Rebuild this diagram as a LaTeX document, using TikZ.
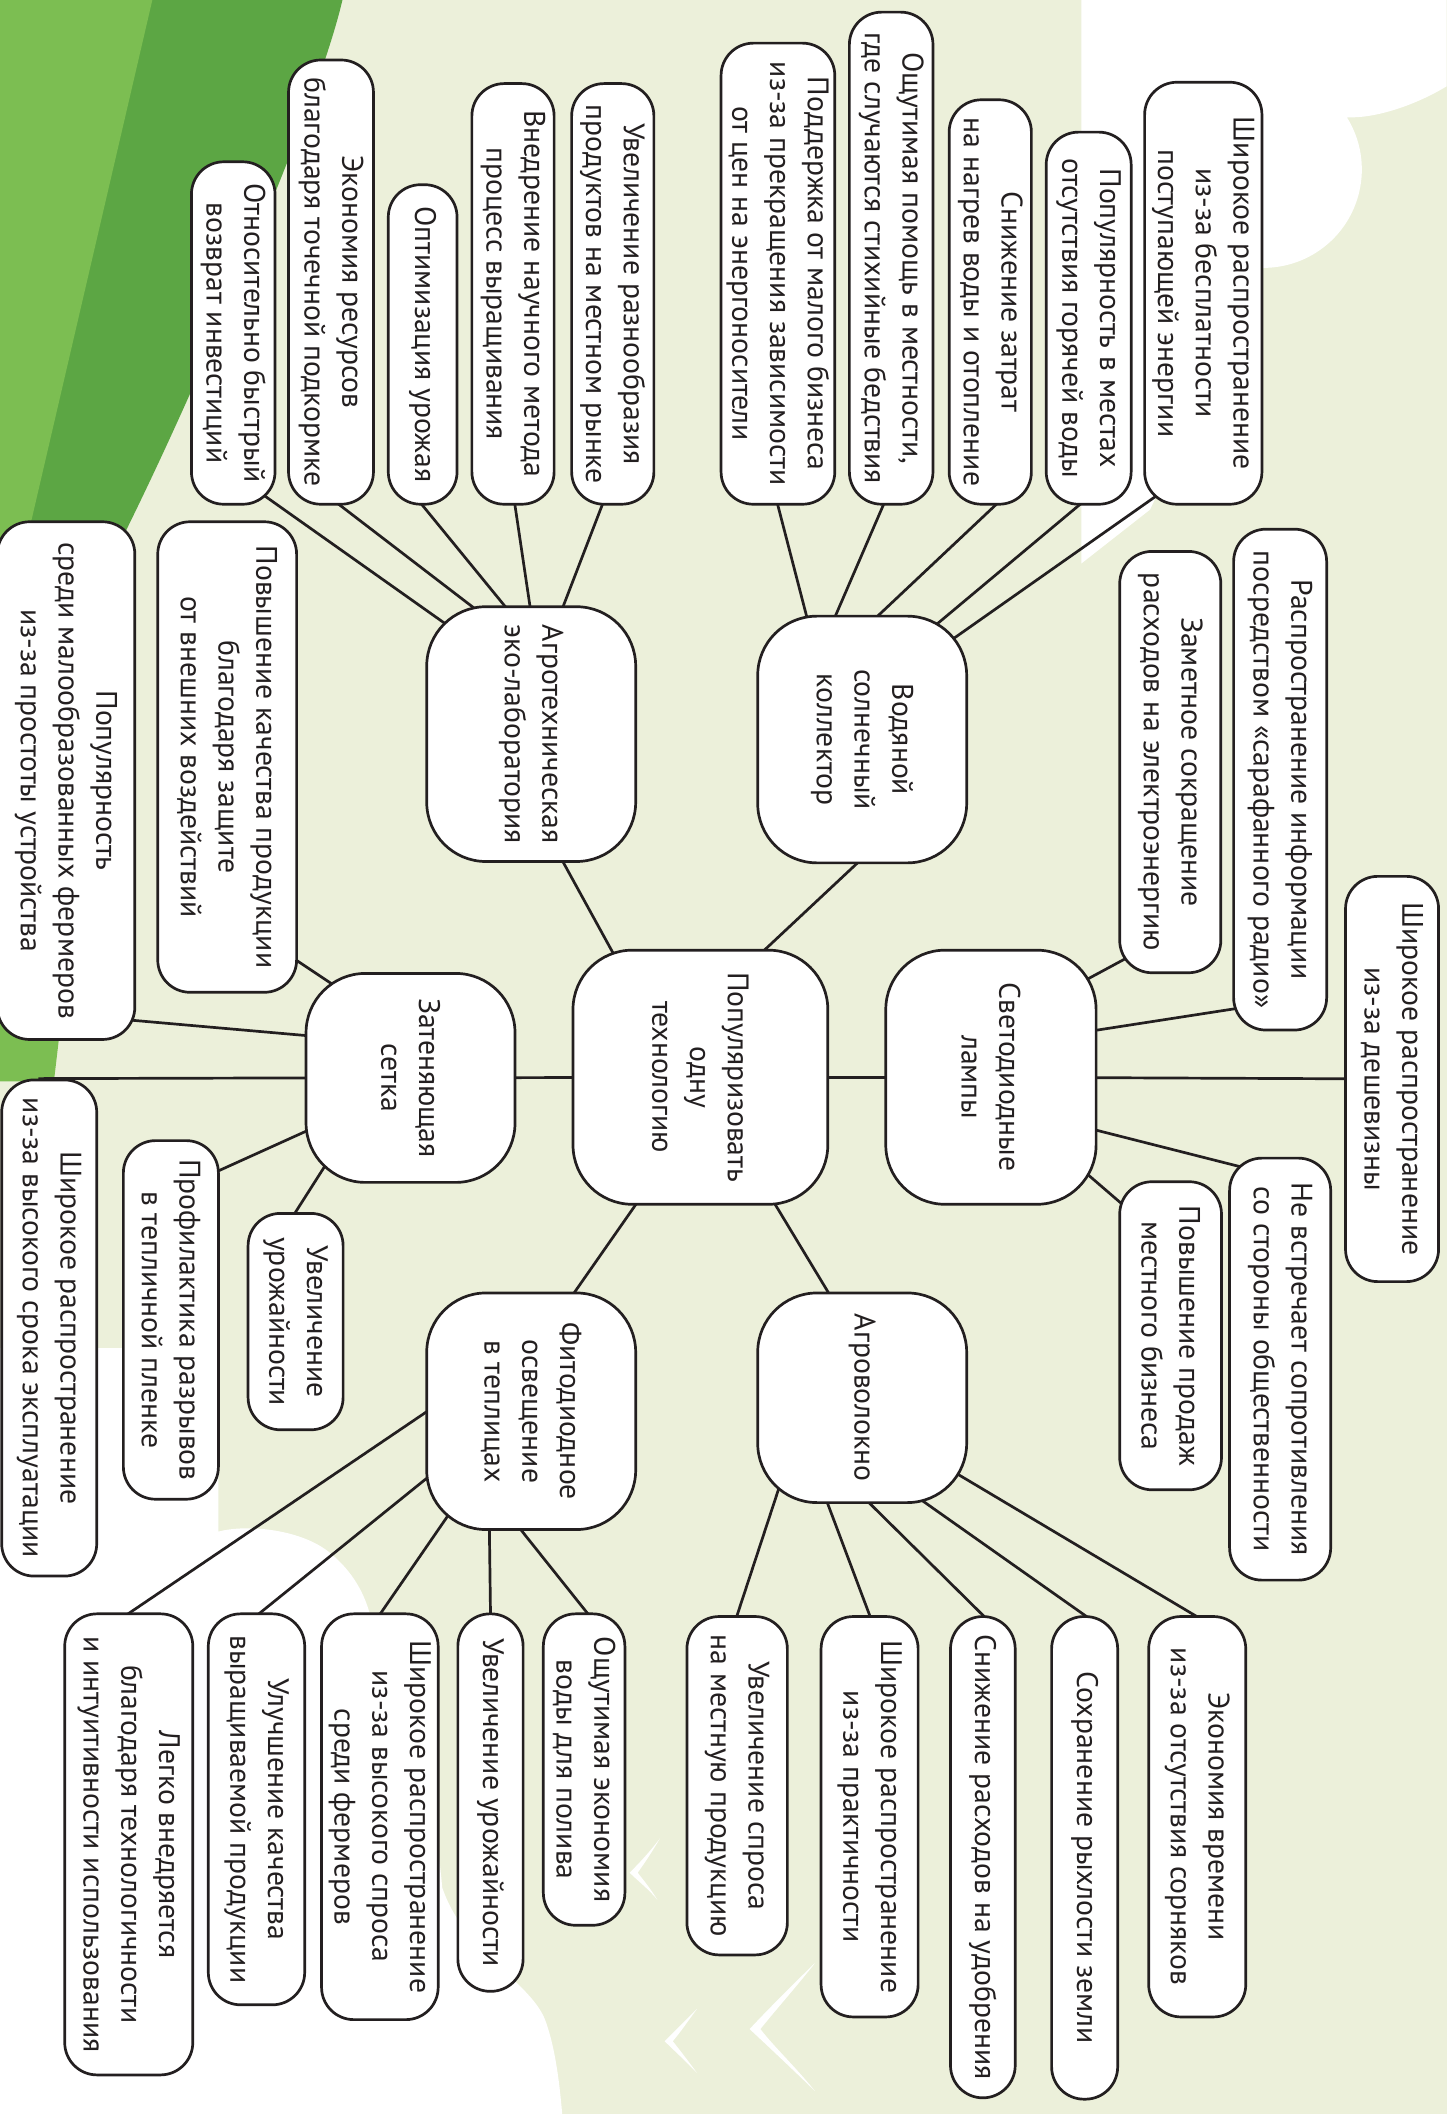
\documentclass[tikz,border=0pt]{standalone}
\usepackage{fontspec}
\setmainfont{PT Sans}
\newcommand{\mapfont}{\fontsize{22}{28}\selectfont}
\pgfdeclarelayer{scenery}
\pgfdeclarelayer{edges}
\pgfsetlayers{scenery,edges,main}
\definecolor{ink}{RGB}{35,31,32}
\definecolor{paper}{RGB}{236,240,218}
\definecolor{leafdark}{RGB}{92,166,68}
\definecolor{leaflight}{RGB}{124,190,82}

\begin{document}
\begin{tikzpicture}[
        x=1pt, y=-1pt,
        hub/.style 2 args={rectangle, draw=ink, fill=white, text=ink, line width=2pt, rounded corners=44pt, rotate=-90, align=center, inner sep=4pt, font=\mapfont, minimum width=#1, minimum height=#2},
        leaf/.style 2 args={rectangle, draw=ink, fill=white, text=ink, line width=2pt, rounded corners=24pt, rotate=-90, align=center, inner sep=4pt, font=\mapfont, minimum width=#1, minimum height=#2},
        link/.style={draw=ink, line width=2pt, shorten <=-14pt, shorten >=-8pt},
      ]
      \useasboundingbox (0,0) rectangle (1073,1568);

      %Background
      \begin{pgfonlayer}{scenery}
      \fill[paper] (0,0) rectangle (1073,1568);
      \fill[leafdark] (0,0) -- (254,0) .. controls (240,60) and (190,180) .. (141,292) .. controls (115,350) and (60,470) .. (0,560) -- cycle;
      \fill[leaflight] (0,0) -- (113,0) -- (24,383) -- (0,480) -- cycle;
      \fill[leaflight] (0,700) -- (52,700) -- (40,802) -- (0,802) -- cycle;
      \fill[white] (802,0) -- (1073,0) -- (1073,64) .. controls (1050,78) and (1020,88) .. (999,87) arc[start angle=32, end angle=-90, radius=73pt] -- (853,378) -- (802,418) -- cycle;
      \fill[white] (0,1000) -- (150,1000) -- (162,1048) -- (162,1136) .. controls (185,1130) and (225,1135) .. (245,1152) .. controls (262,1166) and (270,1182) .. (274,1196) .. controls (300,1260) and (322,1330) .. (328,1400) .. controls (345,1450) and (395,1470) .. (405,1500) .. controls (412,1520) and (415,1545) .. (417,1568) -- (0,1568) -- cycle;
      \fill[white] (489.5,1363.6) .. controls (480,1376) and (472,1384) .. (467,1389) .. controls (473,1395) and (481,1401) .. (487.5,1409) .. controls (482,1400) and (476,1393) .. (473,1389) .. controls (478,1382) and (484,1373) .. cycle;
      \fill[white] (517,1490) .. controls (507,1500) and (499,1508) .. (493,1514) .. controls (500,1521) and (509,1529) .. (517,1537.6) .. controls (510,1528) and (503,1519) .. (499,1514) .. controls (505,1507) and (511,1498) .. cycle;
      \fill[white] (604.5,1456) .. controls (588,1472) and (570,1490) .. (556,1505) .. controls (570,1518) and (588,1535) .. (604.5,1551) .. controls (590,1533) and (574,1518) .. (564,1505) .. controls (576,1490) and (592,1472) .. cycle;
      \end{pgfonlayer}

      %Nodes
      \node[hub={188.5}{189}]   (goal)   at (519.5,799)     {Популяризовать\\одну\\технологию};
      \node[hub={188.5}{156}]   (led)    at (735,799)       {Светодиодные\\лампы};
      \node[hub={183}{155}]     (solar)  at (639.5,548.5)   {Водяной\\солнечный\\коллектор};
      \node[hub={189}{155}]     (lab)    at (394,544.5)     {Агротехническая\\эко-лаборатория};
      \node[hub={155}{155}]     (net)    at (304.5,799.5)   {Затеняющая\\сетка};
      \node[hub={175.5}{155}]   (phyto)  at (394,1046.75)   {Фитодиодное\\освещение\\в теплицах};
      \node[hub={155.5}{155}]   (fiber)  at (639.5,1036.75) {Агроволокно};

      \node[leaf={313}{87}]     (sol1)   at (892.5,217.5)   {Широкое распространение\\из-за бесплатности\\поступающей энергии};
      \node[leaf={276}{63}]     (sol2)   at (807.5,236)     {Популярность в местах\\отсутствия горячей воды};
      \node[leaf={300}{61}]     (sol3)   at (734.5,224)     {Снижение затрат\\на нагрев воды и отопление};
      \node[leaf={365}{62}]     (sol4)   at (661,191.5)     {Ощутимая помощь в местности,\\где случаются стихийные бедствия};
      \node[leaf={342}{84}]     (sol5)   at (577,203)       {Поддержка от малого бизнеса\\из-за прекращения зависимости\\от цен на энергоносители};

      \node[leaf={312}{61}]     (lab1)   at (454.5,218)     {Увеличение разнообразия\\продуктов на местном рынке};
      \node[leaf={312}{61}]     (lab2)   at (380.5,218)     {Внедрение научного метода\\процесс выращивания};
      \node[leaf={237}{51}]     (lab3)   at (313.5,255.5)   {Оптимизация урожая};
      \node[leaf={329.5}{63}]   (lab4)   at (245.5,209.25)  {Экономия ресурсов\\благодаря точечной подкормке};
      \node[leaf={254}{62}]     (lab5)   at (173,247)       {Относительно быстрый\\возврат инвестиций};

      \node[leaf={312.5}{75}]   (led1)   at (868,565.25)    {Заметное сокращение\\расходов на электроэнергию};
      \node[leaf={371.5}{69}]   (led2)   at (949.5,578.25)  {Распространение информации\\посредством «сарафанного радио»};
      \node[leaf={300.6}{69}]   (led3)   at (1032.5,800.3)  {Широкое распространение\\из-за дешевизны};
      \node[leaf={313}{75}]     (led4)   at (949.5,1015.5)  {Не встречает сопротивления\\со стороны общественности};
      \node[leaf={228.5}{75.5}] (led5)   at (868.25,990.75) {Повышение продаж\\местного бизнеса};

      \node[leaf={349}{103}]    (net1)   at (168.5,561.5)   {Повышение качества продукции\\благодаря защите\\от внешних воздействий};
      \node[leaf={384}{102}]    (net2)   at (49,579)        {Популярность\\среди малообразованных фермеров\\из-за простоты устройства};
      \node[leaf={368}{70.5}]   (net3)   at (36.5,985)      {Широкое распространение\\из-за высокого срока эксплуатации};
      \node[leaf={266}{70.5}]   (net4)   at (126.75,979)    {Профилактика разрывов\\в тепличной пленке};
      \node[leaf={160.5}{70.5}] (net5)   at (219.25,980.25) {Увеличение\\урожайности};

      \node[leaf={231}{60.5}]   (phy1)   at (433.25,1312.5) {Ощутимая экономия\\воды для полива};
      \node[leaf={280}{48.4}]   (phy2)   at (363.8,1337)    {Увеличение урожайности};
      \node[leaf={301}{86.5}]   (phy3)   at (281.75,1347.5) {Широкое распространение\\из-за высокого спроса\\среди фермеров};
      \node[leaf={290}{71.5}]   (phy4)   at (190.25,1342)   {Улучшение качества\\выращиваемой продукции};
      \node[leaf={342}{95}]     (phy5)   at (95.5,1368)     {Легко внедряется\\благодаря технологичности\\и интуитивности использования};

      \node[leaf={251}{74.5}]   (fib1)   at (546.75,1324.5) {Увеличение спроса\\на местную продукцию};
      \node[leaf={297}{72}]     (fib2)   at (645,1347.5)    {Широкое распространение\\из-за практичности};
      \node[leaf={357}{48}]     (fib3)   at (729,1377.5)    {Снижение расходов на удобрения};
      \node[leaf={358}{49}]     (fib4)   at (804.5,1378)    {Сохранение рыхлости земли};
      \node[leaf={297}{72}]     (fib5)   at (888,1347.5)    {Экономия времени\\из-за отсутствия сорняков};

      %Lines
      \begin{pgfonlayer}{edges}
      \draw[link] ([shift={(48.5,0)}]goal.west) -- ([shift={(-4.5,0)}]solar.east);
      \draw[link] ([shift={(-66.5,0)}]goal.west) -- ([shift={(24,0)}]lab.east);
      \draw[link] (goal) -- (led);
      \draw[link] (goal) -- (net);
      \draw[link] ([shift={(-48.5,0)}]goal.east) -- ([shift={(32.5,0)}]phyto.west);
      \draw[link] ([shift={(56,0)}]goal.east) -- ([shift={(-25.5,0)}]fiber.west);

      \draw[link] ([shift={(-7,15)}]solar.north west) -- ([shift={(8,-6)}]sol1.south east);
      \draw[link] ([shift={(-22,6)}]solar.north west) -- ([shift={(-7.5,0)}]sol2.east);
      \draw[link] ([shift={(12.5,0)}]solar.west) -- ([shift={(3.5,0)}]sol3.east);
      \draw[link] ([shift={(-19.5,0)}]solar.west) -- ([shift={(-6,0)}]sol4.east);
      \draw[link] ([shift={(-41.5,0)}]solar.west) -- (sol5.east);

      \draw[link] ([shift={(24,0)}]lab.west) -- ([shift={(-8,0)}]lab1.east);
      \draw[link] ([shift={(-1,0)}]lab.west) -- ([shift={(1.5,0)}]lab2.east);
      \draw[link] ([shift={(-20,0)}]lab.west) -- (lab3.east);
      \draw[link] ([shift={(-45,0)}]lab.west) -- ([shift={(7,0)}]lab4.east);
      \draw[link] ([shift={(12.5,12)}]lab.south west) -- ([shift={(25,-6)}]lab5.east);

      \draw[link] ([shift={(-6.5,22)}]led.north west) -- ([shift={(3.5,-10.5)}]led1.south east);
      \draw[link] ([shift={(0,-35)}]led.north) -- ([shift={(0,-16.5)}]led2.south east);
      \draw[link] (led) -- (led3);
      \draw[link] ([shift={(0,39.5)}]led.north) -- ([shift={(7.5,7)}]led4.south west);
      \draw[link] ([shift={(-6.5,-22.5)}]led.north east) -- ([shift={(1.5,16.5)}]led5.south west);

      \draw[link] ([shift={(19,8)}]net.south west) -- ([shift={(0,-24)}]net1.north east);
      \draw[link] ([shift={(0,-31.5)}]net.south) -- ([shift={(0,-15)}]net2.north east);
      \draw[link] (net.south) -- (net3.west);
      \draw[link] ([shift={(0,40)}]net.south) -- ([shift={(0,23)}]net4.north west);
      \draw[link] ([shift={(13,-10)}]net.south east) -- (net5.west);

      \draw[link] ([shift={(-7,0)}]phyto.east) -- ([shift={(2,0)}]phy1.west);
      \draw[link] ([shift={(-31,0)}]phyto.east) -- (phy2.west);
      \draw[link] ([shift={(15.5,-9.5)}]phyto.south east) -- ([shift={(1,0)}]phy3.west);
      \draw[link] ([shift={(0,50.5)}]phyto.south) -- ([shift={(3,0)}]phy4.west);
      \draw[link] ([shift={(0,1)}]phyto.south) -- ([shift={(1,0)}]phy5.west);

      \draw[link] ([shift={(16,-9.5)}]fiber.south east) -- (fib1.west);
      \draw[link] ([shift={(-25.5,0)}]fiber.east) -- (fib2.west);
      \draw[link] ([shift={(6,0)}]fiber.east) -- (fib3.west);
      \draw[link] ([shift={(-34,-2.5)}]fiber.north east) -- (fib4.west);
      \draw[link] ([shift={(-5,-20.5)}]fiber.north east) -- ([shift={(-2,0)}]fib5.west);
      \end{pgfonlayer}
    \end{tikzpicture}
\end{document}
